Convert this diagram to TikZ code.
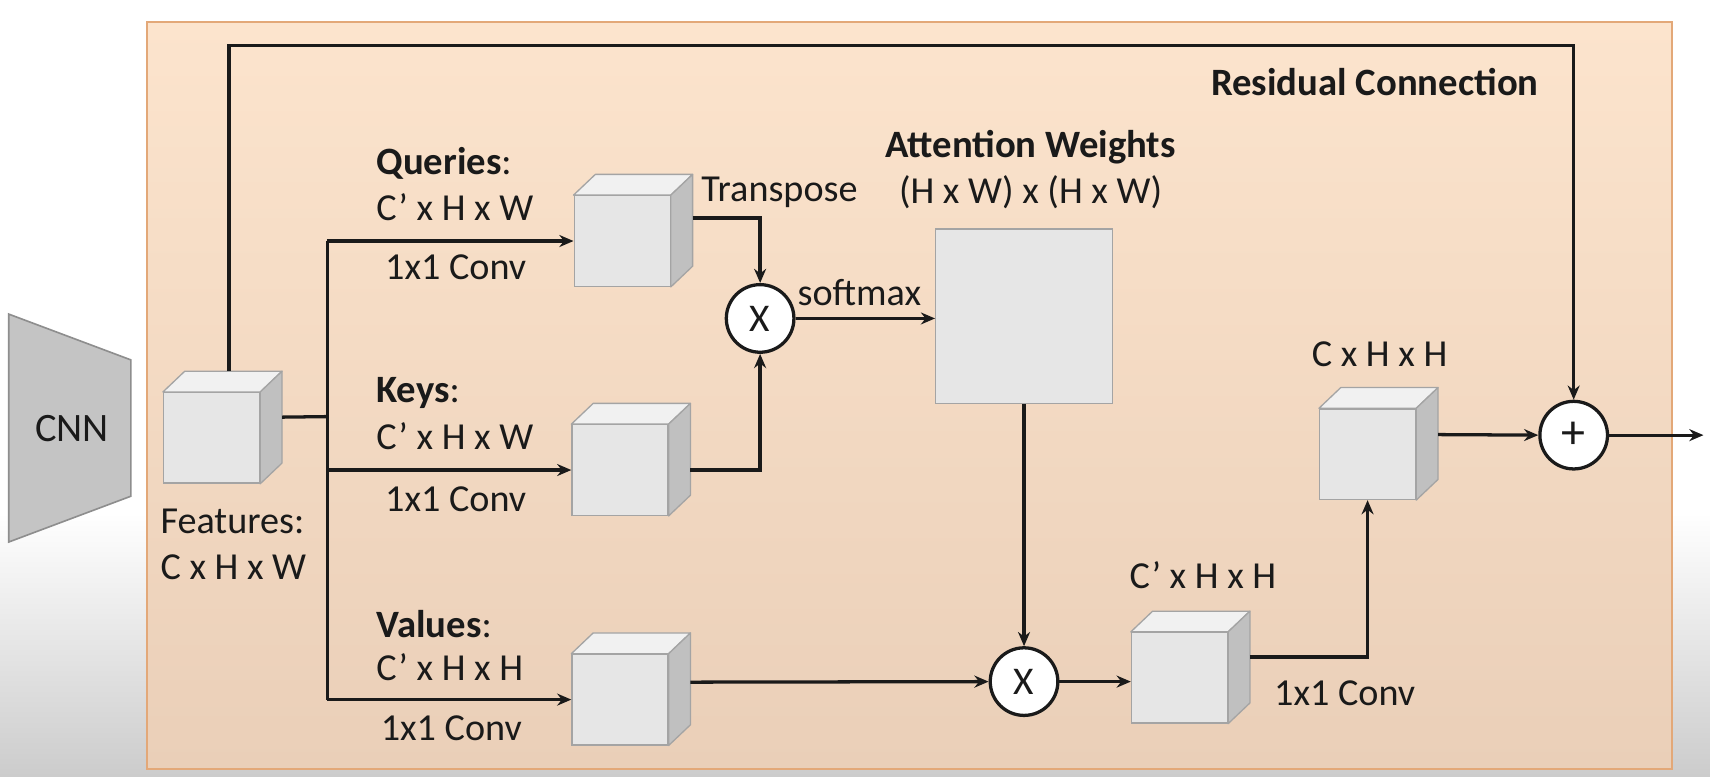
\documentclass[tikz,border=0pt]{standalone}
\usepackage{fontspec}
\setmainfont{Carlito}
\usetikzlibrary{arrows.meta,calc}
\definecolor{peachtop}{HTML}{FCE4CD}
\definecolor{peachmid}{HTML}{F9DFC7}
\definecolor{peachbot}{HTML}{EACFB8}
\definecolor{panelborder}{HTML}{E3A878}
\definecolor{cubefrontc}{HTML}{E6E6E6}
\definecolor{cubetopc}{HTML}{F1F1F1}
\definecolor{cubesidec}{HTML}{C0C0C0}
\definecolor{cubeedge}{HTML}{A4A4A4}
\definecolor{cnnfill}{HTML}{C4C4C4}
\definecolor{cnnedge}{HTML}{8E8E8E}
\definecolor{ink}{HTML}{1A1A1A}
\newcommand{\mycube}[3]{%
  \node[cubefront] (#1) at (#2,#3) {};
  \filldraw[cubetopface] (#1.north west) -- ++(20,-19) -- ([shift={(20,-19)}]#1.north east) -- (#1.north east) -- cycle;
  \filldraw[cubesideface] (#1.north east) -- ([shift={(20,-19)}]#1.north east) -- ([shift={(20,-19)}]#1.south east) -- (#1.south east) -- cycle;
}
\begin{document}
\begin{tikzpicture}[x=1pt,y=-1pt,
  txt/.style={font=\fontsize{35}{40}\selectfont, inner sep=0pt, text=ink},
  btxt/.style={font=\bfseries\fontsize{35.5}{40}\selectfont, inner sep=0pt, text=ink},
  cubefront/.style={rectangle, minimum width=88pt, minimum height=83pt, inner sep=0pt, fill=cubefrontc, draw=cubeedge, line width=1.2pt},
  cubetopface/.style={fill=cubetopc, draw=cubeedge, line width=1.2pt, line join=round},
  cubesideface/.style={fill=cubesidec, draw=cubeedge, line width=1.2pt, line join=round},
  opnode/.style={circle, minimum size=62pt, inner sep=0pt, draw=ink, line width=3pt, fill=white, font=\fontsize{36}{40}\selectfont, text=ink},
  conn/.style={draw=ink, line width=3pt},
  arr/.style={conn, -{Stealth[length=13pt,width=11pt]}},
]
\useasboundingbox (0,0) rectangle (1568,712);
% slide background
\fill[white] (0,0) rectangle (1568,712);
\shade[top color=white, bottom color=black!20] (0,470) rectangle (1568,712);
% panel
\shade[top color=peachtop, middle color=peachmid, bottom color=peachbot] (135,20) rectangle (1533,705);
\draw[panelborder, line width=1.5pt] (135,20) rectangle (1533,705);

% CNN
\filldraw[fill=cnnfill, draw=cnnedge, line width=1.5pt] (8,288) -- (120,330) -- (120,455) -- (8,497) -- cycle;
\node[txt, font=\fontsize{37}{40}\selectfont] (cnn) at (66,393) {CNN};

% cubes
\mycube{feat}{194}{401.5}
\mycube{q}{570.5}{221}
\mycube{k}{568.5}{431}
\mycube{v}{568.5}{641.5}
\mycube{o1}{1081.5}{621.5}
\mycube{f2}{1254}{416.5}

% attention square
\node[rectangle, minimum width=162pt, minimum height=160pt, inner sep=0pt, fill=cubefrontc, draw=cubeedge, line width=1.2pt] (att) at (939,290) {};

% operators
\node[opnode] (m1) at (697,292) {X};
\node[opnode] (m2) at (939,625) {X};
\node[opnode, font=\fontsize{44}{44}\selectfont] (plus) at (1443,399) {+};

% coordinates
\coordinate (jx) at (300,382);
\coordinate (rtop) at (1443,42);
\coordinate (outend) at (1562,399);
\coordinate (rstart) at ([shift={(16,-19)}]feat.north);

% features to branches
\draw[conn] ([shift={(20,-19)}]feat.east) -- (jx);
\draw[conn] (jx |- q.west) -- (jx |- v.west);
\draw[arr] (jx |- q.west) -- (q.west);
\draw[arr] (jx |- k.west) -- (k.west);
\draw[arr] (jx |- v.west) -- (v.west);

% residual
\draw[arr, line join=miter] (rstart) -- (rstart |- rtop) -- (rtop) -- (plus.north);

% query/key product
\draw[arr] ([shift={(20,-21)}]q.east) -| (m1.north);
\draw[arr] ([xshift=20pt]k.east) -| (m1.south);
\draw[arr] (m1.east) -- (m1 -| att.west);

% attention to value product
\draw[arr] (att.south) -- (m2.north);
\draw[arr] ([shift={(20,-16)}]v.east) -- (m2.west);
\draw[arr] (m2.east) -- (m2 -| o1.west);

% output conv
\draw[arr] ([shift={(20,-19)}]o1.east) -| (f2.south);
\draw[arr] ([shift={(20,-18)}]f2.east) -- (plus.west);
\draw[arr] (plus.east) -- (outend);

% labels
\node[btxt, anchor=east] (reslab) at (1411,75) {Residual Connection};
\node[txt, anchor=west] (qname) at (345,150) {\textbf{\fontsize{35.5}{40}\selectfont Queries}:};
\node[txt, anchor=west] (qdim) at (345,190) {C’ x H x W};
\node[txt, anchor=west] (qconv) at (353,245) {1x1 Conv};
\node[txt, anchor=west] (kname) at (345,360) {\textbf{\fontsize{35.5}{40}\selectfont Keys}:};
\node[txt, anchor=west] (kdim) at (345,400) {C’ x H x W};
\node[txt, anchor=west] (kconv) at (353,458) {1x1 Conv};
\node[txt, anchor=west] (vname) at (345,572) {\textbf{\fontsize{35.5}{40}\selectfont Values}:};
\node[txt, anchor=west] (vdim) at (345,612) {C’ x H x H};
\node[txt, anchor=west] (vconv) at (349,668) {1x1 Conv};
\node[txt, anchor=west] (fname) at (147,478) {Features:};
\node[txt, anchor=west] (fdim) at (147,520) {C x H x W};
\node[txt, anchor=west] (transp) at (643,176) {Transpose};
\node[txt] (softm) at (788,268) {softmax};
\node[btxt] (attname) at (945,135) {Attention Weights};
\node[txt] (attdim) at (945,176) {(H x W) x (H x W)};
\node[txt] (o1dim) at (1103,527) {C’ x H x H};
\node[txt] (f2dim) at (1265,325) {C x H x H};
\node[txt] (o1conv) at (1233,636) {1x1 Conv};
\end{tikzpicture}
\end{document}
